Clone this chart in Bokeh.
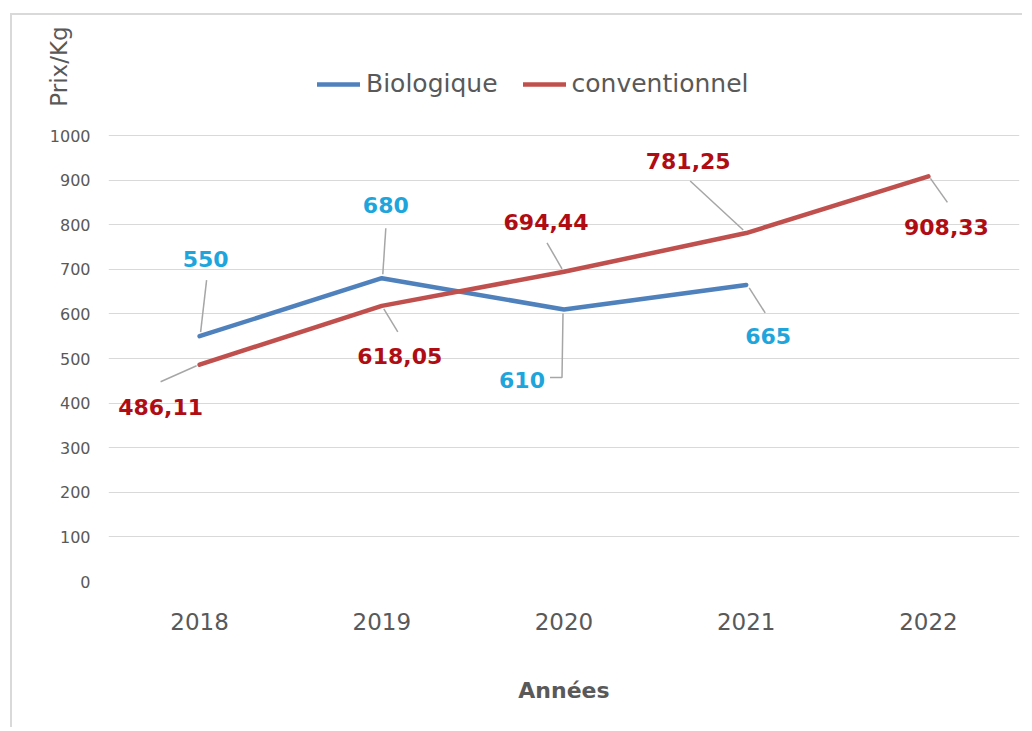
from bokeh.plotting import figure
from bokeh.models import (FactorRange, Range1d, Legend, LegendItem,
                          FixedTicker, ColumnDataSource)
from bokeh.core.properties import value
from bokeh.embed import file_html
from bokeh.resources import INLINE

# ---------------- data ----------------
years = ["2018", "2019", "2020", "2021", "2022"]
bio_years = ["2018", "2019", "2020", "2021"]
bio_values = [550, 680, 610, 665]
conv_values = [486.11, 618.05, 694.44, 781.25, 908.33]
bio_labels = ["550", "680", "610", "665"]
conv_labels = ["486,11", "618,05", "694,44", "781,25", "908,33"]
y_ticks = [0, 100, 200, 300, 400, 500, 600, 700, 800, 900, 1000]
series_names = ["Biologique", "conventionnel"]
x_title = "Années"
y_title = "Prix/Kg"

# ---------------- styling ----------------
FONT = "DejaVu Sans"
GRAY = "#595959"
BLUE = "#4F81BD"
RED = "#C0504D"
BLUE_LBL = "#1EA5DC"
RED_LBL = "#B00C14"
LEADER = "#A6A6A6"

W, H = 1012, 714
ML, MR, MT, MB = 96, 5, 51, 148
frame_w = W - ML - MR
frame_h = H - MT - MB
px_per_cat = frame_w / len(years)
px_per_unit = 0.446
y_max = frame_h / px_per_unit

# label offsets in pixels (screen, y down) relative to each point
bio_lbl_off = [(6, -77), (4, -73), (-42, 71), (22, 51)]
conv_lbl_off = [(-39, 42), (18, 50), (-18, -50), (-58, -72), (18, 51)]
# leader line offsets in pixels
bio_leaders = [[(1, -4), (7, -56)], [(1, -4), (4, -50)],
               [(-1, 4), (-2, 68), (-14, 68)], [(3, 3), (19, 28)]]
conv_leaders = [[(-3, 1), (-39, 17)], [(2, 3), (16, 26)], [(-2, -3), (-17, -29)],
                [(-3, -3), (-56, -52)], [(2, 2), (19, 26)]]

p = figure(width=W, height=H, x_range=FactorRange(*years), y_range=Range1d(0, y_max),
           output_backend="svg", toolbar_location=None,
           min_border_left=ML, min_border_right=MR, min_border_top=MT, min_border_bottom=MB)
p.styles = {"margin-left": "10px", "margin-top": "13px",
            "border-left": "2px solid #D9D9D9", "border-top": "2px solid #D9D9D9"}
p.outline_line_color = None
p.background_fill_color = "white"
p.border_fill_color = "white"

# grid
p.xgrid.grid_line_color = None
p.ygrid.ticker = FixedTicker(ticks=y_ticks)
p.ygrid.grid_line_color = "#D9D9D9"
p.ygrid.grid_line_width = 1.2

# y axis
p.yaxis.ticker = FixedTicker(ticks=y_ticks)
p.yaxis.axis_line_color = None
p.yaxis.major_tick_line_color = None
p.yaxis.minor_tick_line_color = None
p.yaxis.major_tick_out = 0
p.yaxis.major_tick_in = 0
p.yaxis.major_label_text_color = GRAY
p.yaxis.major_label_text_font = FONT
p.yaxis.major_label_text_font_size = "16px"
p.yaxis.major_label_standoff = 18
p.yaxis.axis_label = y_title
p.yaxis.axis_label_text_font = FONT
p.yaxis.axis_label_text_font_style = "normal"
p.yaxis.axis_label_text_font_size = "23px"
p.yaxis.axis_label_text_color = GRAY
p.yaxis.axis_label_standoff = -25
try:
    p.yaxis.axis_label_align = "end"
except Exception:
    pass

# x axis
p.xaxis.axis_line_color = None
p.xaxis.major_tick_line_color = None
p.xaxis.minor_tick_line_color = None
p.xaxis.major_label_text_color = GRAY
p.xaxis.major_label_text_font = FONT
p.xaxis.major_label_text_font_size = "23px"
p.xaxis.major_label_standoff = 25
p.xaxis.axis_label = x_title
p.xaxis.axis_label_text_font = FONT
p.xaxis.axis_label_text_font_style = "bold"
p.xaxis.axis_label_text_font_size = "22px"
p.xaxis.axis_label_text_color = GRAY
p.xaxis.axis_label_standoff = 45

# helper: synthetic coordinate from category index + pixel offsets
def leader_coords(cats, vals, leaders):
    xs, ys = [], []
    for c, v, pts in zip(cats, vals, leaders):
        i = years.index(c) + 0.5
        xs.append([i + dx / px_per_cat for dx, dy in pts])
        ys.append([v - dy / px_per_unit for dx, dy in pts])
    return xs, ys

bx, by = leader_coords(bio_years, bio_values, bio_leaders)
cx, cy = leader_coords(years, conv_values, conv_leaders)
p.multi_line(xs=bx + cx, ys=by + cy, line_color=LEADER, line_width=1.5)

r_bio = p.line(x=bio_years, y=bio_values, line_color=BLUE, line_width=4.5,
               line_join="round", line_cap="round")
r_conv = p.line(x=years, y=conv_values, line_color=RED, line_width=4.5,
                line_join="round", line_cap="round")

bio_src = ColumnDataSource(dict(x=bio_years, y=bio_values, t=bio_labels,
                                xo=[o[0] for o in bio_lbl_off], yo=[o[1] for o in bio_lbl_off]))
conv_src = ColumnDataSource(dict(x=years, y=conv_values, t=conv_labels,
                                 xo=[o[0] for o in conv_lbl_off], yo=[o[1] for o in conv_lbl_off]))
for src, col in ((bio_src, BLUE_LBL), (conv_src, RED_LBL)):
    p.text(x="x", y="y", text="t", x_offset="xo", y_offset="yo", source=src,
           text_align="center", text_baseline="middle", text_color=col,
           text_font=value(FONT), text_font_style="bold", text_font_size="22px")

legend = Legend(items=[LegendItem(label=series_names[0], renderers=[r_bio]),
                       LegendItem(label=series_names[1], renderers=[r_conv])],
                orientation="horizontal", location=(209, 483),
                glyph_width=43, glyph_height=24, label_height=24,
                label_standoff=6, spacing=25, padding=0, margin=0,
                label_text_font=FONT, label_text_font_size="25px",
                label_text_color=GRAY, border_line_color=None,
                background_fill_alpha=0)
p.add_layout(legend)

open("out.html", "w").write(file_html(p, INLINE))
